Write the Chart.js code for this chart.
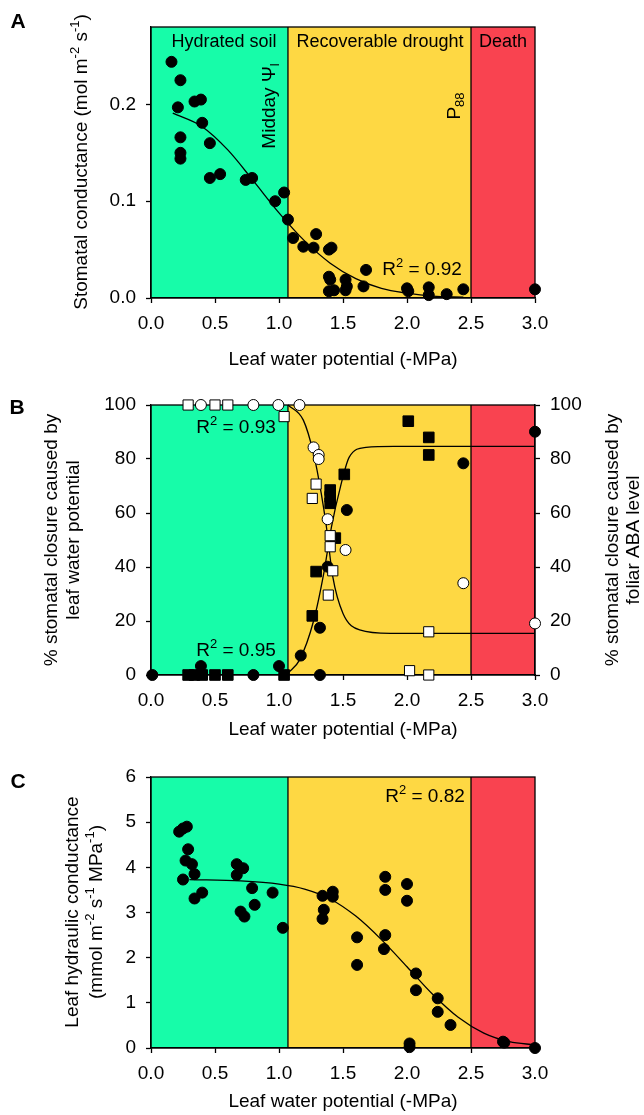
<!DOCTYPE html>
<html>
<head>
<meta charset="utf-8">
<script src="https://cdn.jsdelivr.net/npm/chart.js@4.4.1/dist/chart.umd.min.js"></script>
<style>
    body { margin: 0; background: #fff; }
    #wrap { position: relative; width: 644px; height: 1115px; }
    canvas { position: absolute; left: 0; }
</style>
</head>
<body>
<div id="wrap">
    <canvas id="chartA" width="644" height="378" style="top:0"></canvas>
    <canvas id="chartB" width="644" height="372" style="top:378px"></canvas>
    <canvas id="chartC" width="644" height="365" style="top:750px"></canvas>
</div>
<script>
// shared x axis (leaf water potential, -MPa) and the three zones
const xTicks = [0, 0.5, 1, 1.5, 2, 2.5, 3];
const zoneEdges = [0, 1.07, 2.5, 3];
const zoneColors = ['#17fca9', '#fed843', '#f94350'];

// A - stomatal conductance
const gsX = [0.16, 0.23, 0.21, 0.34, 0.39, 0.40, 0.23, 0.23, 0.23, 0.46, 0.46, 0.54, 0.74, 0.79, 0.97, 1.04, 1.07, 1.11, 1.19, 1.27,
    1.29, 1.39, 1.41, 1.39, 1.40, 1.39, 1.43, 1.52, 1.53, 1.52, 1.66, 1.68, 2.00, 2.01, 2.17, 2.17, 2.31, 2.44, 3.0];
const gsY = [0.244, 0.225, 0.197, 0.203, 0.205, 0.181, 0.166, 0.150, 0.144, 0.160, 0.124, 0.128, 0.122, 0.124, 0.100, 0.109, 0.081, 0.062, 0.053, 0.052,
    0.066, 0.050, 0.052, 0.022, 0.019, 0.007, 0.008, 0.019, 0.012, 0.008, 0.012, 0.029, 0.010, 0.007, 0.011, 0.003, 0.004, 0.009, 0.009];
const gsFitX = [0.17, 0.4, 0.6, 0.8, 1.0, 1.2, 1.4, 1.6, 1.8, 2.0, 2.2, 2.44];
const gsFitY = [0.191, 0.177, 0.153, 0.121, 0.088, 0.059, 0.036, 0.020, 0.010, 0.005, 0.002, 0.001];
const gsTicks = [0, 0.1, 0.2];

// B - % stomatal closure
const lwpDotX = [0.01, 0.39, 0.80, 1.00, 1.17, 1.32, 1.32, 1.38, 1.53, 2.44, 3.0];
const lwpDotY = [0, 3.3, 0, 3.3, 7.2, 0, 17.5, 40.1, 61.1, 78.4, 90.1];
const lwpSqX = [0.29, 0.34, 0.40, 0.50, 0.60, 1.04, 1.26, 1.29, 1.40, 1.40, 1.40, 1.44, 1.51, 2.01, 2.17, 2.17];
const lwpSqY = [0, 0, 0, 0, 0, 0, 21.9, 38.3, 63.6, 66, 68.5, 50.7, 74.3, 94, 88, 81.5];
const abaDotX = [0.39, 0.80, 0.995, 1.16, 1.27, 1.31, 1.31, 1.38, 1.52, 2.44, 3.0];
const abaDotY = [100, 100, 100, 100, 84.3, 81.5, 80, 57.7, 46.3, 34.0, 19.1];
const abaSqX = [0.29, 0.50, 0.60, 1.04, 1.29, 1.26, 1.40, 1.40, 1.42, 1.385, 2.02, 2.17, 2.17];
const abaSqY = [100, 100, 100, 95.7, 70.7, 65.4, 51.6, 47.5, 38.6, 29.6, 1.6, 0, 16];
const riseFitX = [1.07, 1.16, 1.27, 1.35, 1.41, 1.48, 1.55, 1.68, 1.9, 3.0];
const riseFitY = [0.7, 5.5, 20, 37.7, 54.9, 69.7, 80.8, 84.3, 84.7, 84.7];
const fallFitX = [1.07, 1.19, 1.27, 1.33, 1.37, 1.42, 1.50, 1.63, 1.87, 3.0];
const fallFitY = [100, 94.4, 82, 67.3, 55, 36.4, 22.8, 16.7, 15.4, 15.4];
const pctTicks = [0, 20, 40, 60, 80, 100];

// C - leaf hydraulic conductance
const klX = [0.22, 0.25, 0.28, 0.29, 0.27, 0.32, 0.34, 0.25, 0.34, 0.40, 0.67, 0.72, 0.67, 0.79, 0.81, 0.70, 0.73, 0.95, 1.03, 1.34, 1.42,
    1.42, 1.35, 1.34, 1.61, 1.61, 1.83, 1.83, 1.83, 1.82, 2.0, 2.0, 2.07, 2.07, 2.24, 2.24, 2.34, 2.02, 2.02, 2.75, 2.76, 3.0];
const klY = [4.79, 4.86, 4.90, 4.40, 4.15, 4.07, 3.85, 3.73, 3.31, 3.44, 4.07, 3.98, 3.83, 3.54, 3.17, 3.02, 2.91, 3.44, 2.66, 3.37, 3.46,
    3.35, 3.06, 2.86, 2.45, 1.84, 3.79, 3.50, 2.50, 2.19, 3.63, 3.26, 1.65, 1.28, 1.10, 0.80, 0.51, 0.10, 0.02, 0.14, 0.12, 0.0];
const klFitX = [0.30, 0.7, 1.0, 1.2, 1.4, 1.6, 1.8, 2.0, 2.2, 2.4, 2.6, 2.8, 3.0];
const klFitY = [3.73, 3.70, 3.63, 3.52, 3.30, 2.92, 2.40, 1.80, 1.19, 0.68, 0.33, 0.14, 0.07];
const klTicks = [0, 1, 2, 3, 4, 5, 6];

const FONT = '"Liberation Sans", Arial, Helvetica, sans-serif';
const PLOT_LEFT = 151;
const PLOT_RIGHT = 535;
const ROT = -Math.PI / 2;

const pts = (xs, ys) => xs.map((x, i) => ({ x: x, y: ys[i] }));

// text with ^{sup} and _{sub} parts
const parseRich = (s) => {
    const parts = [];
    const re = /([\^_])\{([^}]*)\}/g;
    let last = 0, m;
    while ((m = re.exec(s))) {
        if (m.index > last) parts.push({ t: s.slice(last, m.index), k: '' });
        parts.push({ t: m[2], k: m[1] });
        last = re.lastIndex;
    }
    if (last < s.length) parts.push({ t: s.slice(last), k: '' });
    return parts;
}

const drawRich = (ctx, it) => {
    const size = it.size || 19;
    const small = Math.round(size * 0.66);
    const font = (sz) => (it.bold ? 'bold ' : '') + sz + 'px ' + FONT;
    const parts = parseRich(it.text);
    let w = 0;
    parts.forEach(p => {
        ctx.font = font(p.k ? small : size);
        p.w = ctx.measureText(p.t).width;
        w += p.w;
    });
    ctx.save();
    ctx.translate(it.x, it.y);
    ctx.rotate(it.rot || 0);
    ctx.fillStyle = '#000';
    ctx.textAlign = 'left';
    ctx.textBaseline = 'middle';
    let cx = -w / 2;
    parts.forEach(p => {
        ctx.font = font(p.k ? small : size);
        const dy = p.k === '^' ? -size * 0.36 : p.k === '_' ? size * 0.3 : 0;
        ctx.fillText(p.t, cx, dy);
        cx += p.w;
    });
    ctx.restore();
}

const zonesPlugin = {
    id: 'zones',
    beforeDraw(chart) {
        const { ctx, chartArea: a, scales: { x } } = chart;
        ctx.save();
        zoneColors.forEach((c, i) => {
            const l = x.getPixelForValue(zoneEdges[i]);
            const r = x.getPixelForValue(zoneEdges[i + 1]);
            ctx.fillStyle = c;
            ctx.fillRect(l, a.top, r - l, a.bottom - a.top);
        });
        ctx.restore();
    },
    beforeDatasetsDraw(chart) {
        const { ctx, chartArea: a, scales: { x } } = chart;
        ctx.save();
        ctx.strokeStyle = '#000';
        ctx.lineWidth = 1.3;
        [1, 2].forEach(i => {
            const px = x.getPixelForValue(zoneEdges[i]);
            ctx.beginPath();
            ctx.moveTo(px, a.top);
            ctx.lineTo(px, a.bottom);
            ctx.stroke();
        });
        ctx.strokeRect(a.left, a.top, a.right - a.left, a.bottom - a.top);
        ctx.restore();
    },
    afterDraw(chart, args, opts) {
        (opts.items || []).forEach(it => drawRich(chart.ctx, it));
    }
};

const tickFont = { family: FONT, size: 19 };

const axisX = (h) => ({
    type: 'linear', min: 0, max: 3,
    afterBuildTicks: s => { s.ticks = xTicks.map(v => ({ value: v })); },
    afterFit: s => { s.height = h; },
    border: { color: '#000', width: 1.3 },
    grid: { drawOnChartArea: false, color: '#000', tickLength: 5, tickWidth: 1.3 },
    ticks: { color: '#000', padding: 9, font: tickFont, maxRotation: 0, autoSkip: false, callback: v => v.toFixed(1) }
});

const axisY = (pos, min, max, tickVals, fmt, w) => ({
    type: 'linear', position: pos, min: min, max: max,
    afterBuildTicks: s => { s.ticks = tickVals.map(v => ({ value: v })); },
    afterFit: s => { s.width = w; },
    border: { color: '#000', width: 1.3 },
    grid: { drawOnChartArea: false, color: '#000', tickLength: 5, tickWidth: 1.3 },
    ticks: { color: '#000', padding: 10, font: tickFont, autoSkip: false, callback: fmt }
});

const dots = (data, fill, style, r) => ({
    data: data, showLine: false, clip: false,
    pointStyle: style, pointRadius: r, pointHoverRadius: r,
    backgroundColor: fill, borderColor: '#000', borderWidth: 1
});

const curve = (data) => ({
    data: data, showLine: true, clip: false, pointRadius: 0, pointHoverRadius: 0,
    borderColor: '#000', borderWidth: 1.3, cubicInterpolationMode: 'monotone', fill: false
});

const baseOptions = (padTop, padRight, scales, items) => ({
    responsive: false,
    devicePixelRatio: 1,
    animation: false,
    events: [],
    layout: { padding: { top: padTop, right: padRight, left: 0, bottom: 0 } },
    scales: scales,
    plugins: { legend: { display: false }, tooltip: { enabled: false }, zones: { items: items } }
});

const xTitle = 'Leaf water potential (-MPa)';

new Chart(document.getElementById('chartA'), {
    type: 'scatter',
    data: {
        datasets: [
            dots(pts(gsX, gsY), '#000', 'circle', 5.5),
            curve(pts(gsFitX, gsFitY))
        ]
    },
    options: baseOptions(27, 644 - PLOT_RIGHT, {
        x: axisX(378 - 298),
        y: axisY('left', 0, 0.28, gsTicks, v => v.toFixed(1), PLOT_LEFT)
    }, [
        { text: 'A', x: 18, y: 22, size: 21, bold: true },
        { text: 'Stomatal conductance (mol m^{-2} s^{-1})', x: 82, y: 162, rot: ROT },
        { text: xTitle, x: 343, y: 360 },
        { text: 'Hydrated soil', x: 224, y: 42, size: 18 },
        { text: 'Recoverable drought', x: 380, y: 42, size: 18 },
        { text: 'Death', x: 503, y: 42, size: 18 },
        { text: 'Midday \u03A8_{l}', x: 270, y: 106, rot: ROT },
        { text: 'P_{88}', x: 455, y: 106, rot: ROT },
        { text: 'R^{2} = 0.92', x: 422, y: 270 }
    ]),
    plugins: [zonesPlugin]
});

new Chart(document.getElementById('chartB'), {
    type: 'scatter',
    data: {
        datasets: [
            dots(pts(abaDotX, abaDotY), '#fff', 'circle', 5.5),
            dots(pts(abaSqX, abaSqY), '#fff', 'rect', 7.2),
            dots(pts(lwpSqX, lwpSqY), '#000', 'rect', 7.5),
            dots(pts(lwpDotX, lwpDotY), '#000', 'circle', 5.5),
            curve(pts(riseFitX, riseFitY)),
            curve(pts(fallFitX, fallFitY))
        ]
    },
    options: baseOptions(27, 0, {
        x: axisX(372 - 297),
        y: axisY('left', 0, 100, pctTicks, v => String(v), PLOT_LEFT),
        y2: axisY('right', 0, 100, pctTicks, v => String(v), 644 - PLOT_RIGHT)
    }, [
        { text: 'B', x: 17, y: 30, size: 21, bold: true },
        { text: '% stomatal closure caused by', x: 52, y: 162, rot: ROT },
        { text: 'leaf water potential', x: 74, y: 162, rot: ROT },
        { text: '% stomatal closure caused by', x: 613, y: 162, rot: ROT },
        { text: 'foliar ABA level', x: 634, y: 162, rot: ROT },
        { text: xTitle, x: 343, y: 352 },
        { text: 'R^{2} = 0.93', x: 236, y: 50 },
        { text: 'R^{2} = 0.95', x: 236, y: 273 }
    ]),
    plugins: [zonesPlugin]
});

new Chart(document.getElementById('chartC'), {
    type: 'scatter',
    data: {
        datasets: [
            dots(pts(klX, klY), '#000', 'circle', 5.5),
            curve(pts(klFitX, klFitY))
        ]
    },
    options: baseOptions(27, 644 - PLOT_RIGHT, {
        x: axisX(365 - 298),
        y: axisY('left', 0, 6, klTicks, v => String(v), PLOT_LEFT)
    }, [
        { text: 'C', x: 18, y: 32, size: 21, bold: true },
        { text: 'Leaf hydraulic conductance', x: 73, y: 162, rot: ROT },
        { text: '(mmol m^{-2} s^{-1} MPa^{-1})', x: 97, y: 162, rot: ROT },
        { text: xTitle, x: 343, y: 352 },
        { text: 'R^{2} = 0.82', x: 425, y: 47 }
    ]),
    plugins: [zonesPlugin]
});
</script>
</body>
</html>
